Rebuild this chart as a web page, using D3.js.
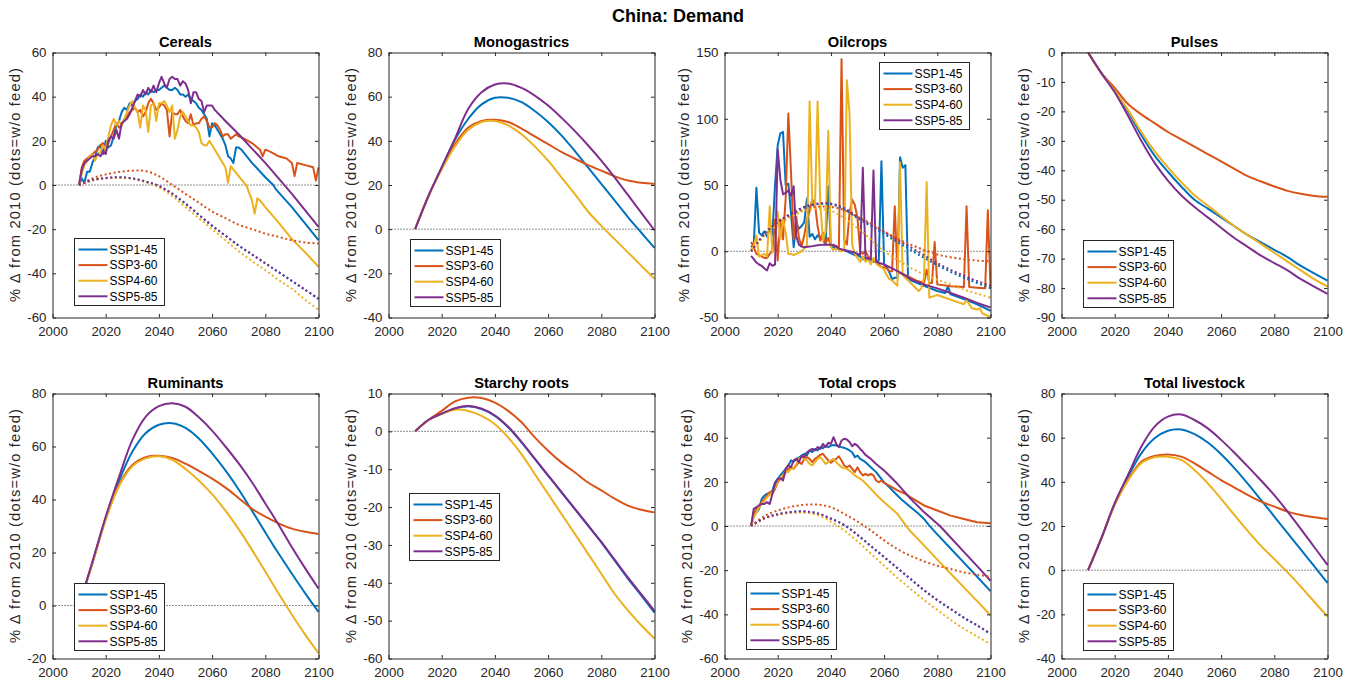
<!DOCTYPE html>
<html><head><meta charset="utf-8">
<script src="https://cdn.jsdelivr.net/npm/d3@7"></script>
<style>
body{margin:0;background:#fff}
svg{display:block}
text{font-family:"Liberation Sans",Arial,Helvetica,sans-serif}
</style>
</head><body>
<svg id="c" width="1356" height="683"></svg>
<script>
// ---------------- DATA ----------------
const scenarios = ["SSP1-45","SSP3-60","SSP4-60","SSP5-85"];
const colors = ["#0072BD","#D95319","#EDB120","#7E2F8E"];
const years5 = [2010,2015,2020,2025,2030,2035,2040,2045,2050,2055,2060,2065,2070,2075,2080,2085,2090,2095,2100];
const xTicks = [2000,2020,2040,2060,2080,2100];

// Cereals (annual, irregular years) [year, value]
const cerealsSSP1 = [[2010,0],[2011,3],[2012,1],[2013,6],[2014,6],[2015,10],[2016,13],[2017,17],[2018,18],[2019,14],[2020,20],[2021,17],[2022,18],[2023,22],[2024,27],[2025,29],[2026,33],[2027,35],[2028,34],[2029,37],[2030,36],[2031,38],[2032,39],[2033,41],[2034,40],[2035,42],[2036,41],[2037,43],[2038,42],[2039,43],[2040,43],[2041,44],[2042,45],[2043,44],[2044,43],[2045,43],[2046,44],[2047,43],[2048,41],[2049,41],[2050,40],[2051,41],[2052,39],[2053,38],[2054,37],[2055,35],[2056,34],[2057,32],[2058,30],[2059,22],[2060,28],[2061,27],[2062,25],[2063,23],[2064,21],[2065,18],[2066,13],[2067,12],[2068,10],[2069,17],[2070,17],[2071,16],[2075,10],[2080,3.5],[2083,0],[2084,-2],[2090,-10],[2095,-17.5],[2100,-25]];
const cerealsSSP3 = [[2010,0],[2011,8],[2012,11],[2013,12],[2014,13],[2015,14],[2016,15],[2017,16],[2018,18],[2019,19],[2020,15],[2021,19],[2022,22],[2023,25],[2024,28],[2025,26],[2026,27],[2027,30],[2028,31],[2029,33],[2030,34],[2031,35],[2032,33],[2033,34],[2034,31],[2035,33],[2036,37],[2037,39],[2038,37],[2039,34],[2040,35],[2041,37],[2042,36],[2043,34],[2044,22],[2045,33],[2046,32],[2047,32],[2048,34],[2049,31],[2050,29],[2051,28],[2052,32],[2053,27],[2054,28],[2055,28],[2056,30],[2057,31],[2058,29],[2059,26],[2060,26],[2061,28],[2062,27],[2063,25],[2064,22],[2065,23],[2066,23],[2067,21],[2068,22],[2069,23],[2070,22],[2072,21],[2075,19],[2077,17],[2078,16],[2079,13],[2080,16],[2082,15],[2085,13],[2088,12],[2090,10],[2091,4],[2092,10],[2095,9],[2098,8],[2099,2],[2100,8]];
const cerealsSSP4 = [[2010,0],[2011,5],[2012,9],[2013,11],[2014,13],[2015,14],[2016,11],[2017,14],[2018,15],[2019,18],[2020,16],[2021,22],[2022,27],[2023,30],[2024,27],[2025,29],[2026,27],[2027,30],[2028,33],[2029,36],[2030,38],[2031,35],[2032,33],[2033,26],[2034,36],[2035,34],[2036,24],[2037,36],[2038,37],[2039,29],[2040,37],[2041,37],[2042,38],[2043,36],[2044,33],[2045,36],[2046,21],[2047,25],[2048,31],[2049,33],[2050,31],[2051,29],[2052,27],[2053,27],[2054,26],[2055,24],[2056,19],[2057,18],[2058,18],[2059,20],[2060,18],[2062,14],[2064,10],[2065,8],[2066,1],[2067,8.5],[2068,7],[2070,4],[2073,-0.5],[2075,-7],[2076,-13],[2077,-6],[2078,-7],[2080,-10],[2085,-17],[2090,-24.5],[2095,-30.5],[2100,-37]];
const cerealsSSP5 = [[2010,0],[2011,7],[2012,10],[2013,11],[2014,12],[2015,13],[2016,13],[2017,14],[2018,13],[2019,15],[2020,14],[2021,20],[2022,22],[2023,21],[2024,25],[2025,21],[2026,28],[2027,29],[2028,30],[2029,32],[2030,35],[2031,38],[2032,41],[2033,40],[2034,43],[2035,41],[2036,44],[2037,42],[2038,45],[2039,42],[2040,46],[2041,49],[2042,46],[2043,44],[2044,48],[2045,49],[2046,48],[2047,48],[2048,45],[2049,47],[2050,46],[2051,43],[2052,37],[2053,42],[2054,42],[2055,39],[2056,38],[2057,33],[2058,36],[2059,36],[2060,36],[2061,34],[2065,29],[2070,23],[2075,16.5],[2080,10],[2085,3],[2090,-4],[2095,-11.5],[2100,-19]];
// Cereals w/o feed (5-yearly, dotted)
const cerealsNoFeedSSP1 = [0,2.2,3.1,3.4,3,1.5,-0.5,-4,-8.5,-13.5,-18.5,-23,-27.5,-31.5,-35.5,-39.5,-43.5,-47.5,-51.5];
const cerealsNoFeedSSP3 = [0,3,4.8,5.9,6.5,6.3,4,0,-4,-8,-12,-15,-18,-20,-22,-23.5,-25,-26,-26.5];
const cerealsNoFeedSSP4 = [0,2,3,3.2,2.8,1.3,-1,-5,-10,-15,-20,-25,-30,-34.5,-38.5,-43,-47,-52,-56.5];
const cerealsNoFeedSSP5 = [0,2.3,3.2,3.5,3,1.6,-0.4,-3.9,-8.4,-13.4,-18.4,-22.9,-27.4,-31.4,-35.4,-39.4,-43.4,-47.4,-51.6];

// Monogastrics (5-yearly)
const monoSSP1 = [0,15,28,40.5,50,56.5,59.5,59.5,57.5,53.5,48.5,42.5,35.5,28,20.5,13,5.5,-1.5,-8.5];
const monoSSP3 = [0,15,27.5,38.5,46,49,49.5,48.5,45.5,42,38.5,35,32,29,26.5,24,22,21,20.5];
const monoSSP4 = [0,15,27,37.5,45,48.5,49,47,43,37.5,31,23.5,16,8,1.5,-4.5,-10.5,-16.5,-22.5];
const monoSSP5 = [0,15,28,41,54.5,62,65.5,66,64,60.5,56,50.5,44.5,38,31,23.5,15.5,7.5,-0.5];

// Oilcrops (annual, irregular years) [year, value]
const oilSSP1 = [[2010,3],[2011,5],[2012,48],[2013,14],[2014,12],[2015,15],[2016,11],[2017,17],[2018,12],[2019,50],[2020,80],[2021,89],[2022,90],[2023,50],[2024,51],[2025,29],[2026,3],[2027,21],[2028,17],[2029,19],[2030,22],[2031,40],[2032,11],[2033,13],[2034,9],[2035,12],[2036,10],[2037,9],[2038,5],[2039,49],[2040,4],[2041,3],[2042,2],[2043,2],[2044,1],[2045,1],[2046,0],[2047,-1],[2048,-2],[2049,-3],[2050,-3],[2051,-4],[2052,-6],[2053,-6],[2054,-5],[2055,-7],[2056,-6],[2057,-8],[2058,-7],[2059,68],[2060,-10],[2061,-12],[2062,-16],[2063,-21],[2064,-20],[2065,-20],[2066,71],[2067,63],[2068,65],[2069,-20],[2070,-22],[2075,-26],[2080,-30],[2083,-31.5],[2084,-26.5],[2085,-32.5],[2090,-36],[2095,-40],[2100,-45]];
const oilSSP3 = [[2010,7],[2011,3],[2012,-2],[2013,-3],[2014,-4],[2015,-5],[2016,-5],[2017,-2],[2018,0],[2019,24],[2020,-7],[2021,24],[2022,9],[2023,40],[2024,104],[2025,60],[2026,9],[2027,26],[2028,10],[2029,4],[2030,12],[2031,24],[2032,30],[2033,39],[2034,36],[2035,19],[2036,8],[2037,14],[2038,6],[2039,10],[2040,4],[2041,5],[2042,3],[2043,2],[2044,145],[2045,9],[2046,5],[2047,29],[2048,39],[2049,35],[2050,25],[2051,0],[2052,-2],[2053,0],[2054,-4],[2055,-6],[2056,-8],[2057,-8],[2058,-10],[2059,-12],[2060,-12],[2061,-13],[2062,-15],[2063,-15],[2064,34],[2065,-16],[2067,-17],[2070,-20],[2072,-22],[2075,-24],[2076,-14],[2077,-24],[2078,-24],[2079,7],[2080,-25],[2085,-26.5],[2090,-27],[2091,34],[2092,-27],[2095,-27.5],[2098,-28],[2099,31],[2100,-28]];
const oilSSP4 = [[2010,1],[2011,4],[2012,12],[2013,-4],[2014,-3],[2015,-2],[2016,-4],[2017,34],[2018,-1],[2019,3],[2020,30],[2021,9],[2022,24],[2023,14],[2024,-2],[2025,-2],[2026,-3],[2027,-2],[2028,-1],[2029,0],[2030,2],[2031,5],[2032,113],[2033,36],[2034,33],[2035,113],[2036,36],[2037,8],[2038,15],[2039,91],[2040,3],[2041,1],[2042,2],[2043,1],[2044,0],[2045,1],[2046,129],[2047,104],[2048,5],[2049,-2],[2050,-5],[2051,-8],[2052,-4],[2053,-8],[2054,-6],[2055,-10],[2056,-5],[2057,-9],[2058,-11],[2059,-12],[2060,-14],[2061,-18],[2062,-21],[2063,-22],[2064,-24],[2065,-26],[2066,67],[2067,-18],[2068,-20],[2069,-22],[2071,-26],[2073,-30],[2074,-28],[2075,-20],[2076,52],[2077,-35],[2080,-33],[2085,-36.5],[2090,-40],[2091,-37],[2093,-43],[2095,-44],[2096,-43],[2097,-47],[2100,-49.5]];
const oilSSP5 = [[2010,-3.5],[2011,-6],[2012,-8.5],[2013,-10],[2014,-11],[2015,-13],[2016,-14.5],[2017,-9],[2018,-11],[2019,-10],[2020,77],[2021,54],[2022,43],[2023,44],[2024,46],[2025,42],[2026,49],[2027,11],[2028,5],[2029,3.5],[2030,3],[2032,3.5],[2035,4.5],[2037,5],[2040,5],[2042,4],[2043,2],[2045,1],[2047,0],[2049,-1],[2051,-3],[2052,63],[2053,-5],[2055,-6],[2056,61],[2057,-8],[2060,-10],[2063,-13],[2066,-16],[2070,-21],[2075,-25],[2080,-28],[2085,-31.5],[2090,-35],[2095,-39],[2100,-42.5]];
const oilNoFeedSSP1 = [0,13,22,28,33,35.5,35.5,31.5,25,19,13,7,1,-5,-10.5,-15.5,-20,-24,-28];
const oilNoFeedSSP3 = [0,12,21,27,31.5,33.5,33.5,31,26,21,15,9.5,5,1,-2.5,-4.5,-6,-7,-7.6];
const oilNoFeedSSP4 = [0,12,20,26,30.5,32,30.5,25,17.5,9,0,-6.5,-12.5,-17.5,-21.5,-25,-29,-32,-35];
const oilNoFeedSSP5 = [0,13,22,28.5,33.5,36,36,32.5,26,20,14.5,8.5,3,-3,-9,-14,-18.5,-22.5,-26];

// Pulses (5-yearly)
const pulsesSSP1 = [0,-7,-13,-20,-28,-35,-40.5,-45.5,-50,-53,-56,-59,-62,-64.5,-67,-69.5,-72.5,-75,-77.5];
const pulsesSSP3 = [0,-7,-12,-17.5,-21,-24,-27,-29.5,-32,-34.5,-37,-39.5,-42,-43.8,-45.5,-47,-48,-48.7,-49];
const pulsesSSP4 = [0,-7,-13,-19.5,-27,-33.5,-39,-44,-48.5,-52,-55.5,-59,-62,-65,-68,-71,-74,-77,-79.5];
const pulsesSSP5 = [0,-7,-13.5,-21.5,-30,-37.5,-43.5,-48.5,-52.5,-56,-59.5,-63,-66,-69,-71.5,-74,-77,-79.5,-82];

// Ruminants (5-yearly)
const rumSSP1 = [0,16,33,47,58,65,68.2,68.8,67,63,57.4,51,43.8,35.8,27.6,19.6,12,4.6,-2.4];
const rumSSP3 = [0,16,32.5,45.5,53,56,56.5,55.7,53.5,50.8,47.9,44.5,40.5,36.5,33.5,31,29,27.8,27];
const rumSSP4 = [0,16,32.5,45,52.5,55.5,56.3,55,51.5,47.2,42,35.8,28.8,21,12.8,4.5,-3.5,-11,-18];
const rumSSP5 = [0,16.5,33.5,48.5,62.4,71.2,75.2,76.3,75,71,66,60,53.6,46.5,38.5,30.5,22,14,6.4];

// Starchy roots (5-yearly)
const starchSSP1 = [0,3,4.6,6,6.6,5.9,4.1,1.1,-2.9,-7.3,-11.7,-16.1,-20.5,-24.9,-29.3,-34.1,-38.9,-43.3,-47.9];
const starchSSP3 = [0,3,5.4,7.9,8.9,8.8,7.6,5.4,2.4,-1.6,-5.1,-8.2,-10.8,-13.5,-15.6,-17.8,-19.6,-20.7,-21.4];
const starchSSP4 = [0,2.9,4.6,5.7,5.4,4.1,1.9,-1.6,-6,-11.3,-16.5,-21.8,-27,-32.3,-37.6,-42.9,-47.3,-51.2,-54.7];
const starchSSP5 = [0,3,4.7,6.1,6.7,6,4.2,1.2,-2.8,-7.2,-11.6,-16,-20.4,-24.8,-29.2,-33.9,-38.6,-43,-47.4];

// Total crops (annual, irregular years) [year, value]
const totCropsSSP1 = [[2010,0],[2011,4.6],[2012,6.2],[2013,7.8],[2014,12.3],[2015,13.8],[2016,14.6],[2017,15],[2018,16],[2019,19.8],[2020,21.3],[2021,22.9],[2022,24.4],[2023,25.9],[2024,27.4],[2025,29.7],[2026,29],[2027,30.4],[2028,31],[2029,31.9],[2030,32.7],[2031,32],[2032,34.2],[2033,33.5],[2034,34.9],[2035,34.2],[2036,35.7],[2037,35.2],[2038,36.4],[2039,35.7],[2040,36.4],[2041,36.7],[2042,36.4],[2043,36.1],[2044,35.7],[2045,35.4],[2046,34.9],[2047,34.2],[2048,33.4],[2049,31.2],[2050,31.9],[2051,30.4],[2052,29.7],[2053,28.9],[2055,26.6],[2057,24.4],[2060,19.8],[2062,17.5],[2065,13.8],[2067,11.5],[2070,8.5],[2073,5.5],[2075,3.2],[2077,0.2],[2080,-3.8],[2085,-10.2],[2090,-16.6],[2095,-23],[2100,-29.5]];
const totCropsSSP3 = [[2010,0],[2011,5.5],[2012,7.8],[2013,9.3],[2014,10.8],[2015,12.3],[2016,13.8],[2017,15.3],[2018,14.6],[2019,16.8],[2020,19.8],[2021,21.3],[2022,21.6],[2023,24.4],[2024,25.9],[2025,26.6],[2026,25.9],[2027,27.4],[2028,28.9],[2029,28.1],[2030,30.4],[2031,31.2],[2032,30.4],[2033,28.9],[2034,30.4],[2035,31.2],[2036,32.2],[2037,32.7],[2038,31.2],[2039,29.7],[2040,28.6],[2041,29.7],[2042,30.4],[2043,31.6],[2044,29.7],[2045,27.4],[2046,26.6],[2047,27.4],[2048,25.9],[2049,24.4],[2050,26.6],[2051,24.4],[2052,22.9],[2053,23.6],[2054,22.9],[2055,23.6],[2056,22.9],[2057,20.6],[2058,19.8],[2059,20.6],[2060,19.5],[2062,18.3],[2065,16.1],[2068,14.6],[2070,13],[2075,9.3],[2080,7],[2085,4.7],[2090,3.2],[2095,1.7],[2100,1.2]];
const totCropsSSP4 = [[2010,0],[2011,4],[2012,6.2],[2013,8.5],[2014,10],[2015,11.5],[2016,13],[2017,14.1],[2018,15.3],[2019,17.6],[2020,20.6],[2021,22],[2022,22.9],[2023,25.1],[2024,24.4],[2025,25.9],[2026,26.2],[2027,28.1],[2028,30.4],[2029,31.2],[2030,30.4],[2031,29.7],[2032,28.1],[2033,27.4],[2034,28.9],[2035,30.4],[2036,31.2],[2037,29.7],[2038,28.1],[2039,28.9],[2040,29.7],[2041,30.4],[2042,28.9],[2043,27.7],[2044,26.6],[2045,26.2],[2046,25.9],[2047,25.1],[2048,24],[2049,22.9],[2050,22.1],[2052,20.6],[2055,16.8],[2058,13],[2060,10.8],[2065,5.5],[2068,0.5],[2070,-2.5],[2075,-8.8],[2080,-15.2],[2085,-21.5],[2090,-27.8],[2095,-34],[2100,-40.4]];
const totCropsSSP5 = [[2010,0],[2011,7.8],[2012,8.5],[2013,9.3],[2014,10],[2015,10],[2016,10.8],[2017,10],[2018,14.6],[2019,19.1],[2020,21.3],[2021,21.6],[2022,20.6],[2023,25.9],[2024,27.4],[2025,26.6],[2026,29.7],[2027,30.4],[2028,28.9],[2029,31.9],[2030,31.2],[2031,33.4],[2032,34.2],[2033,34.9],[2034,34.2],[2035,35.7],[2036,34.9],[2037,37.2],[2038,35.7],[2039,37.7],[2040,37.2],[2041,40.2],[2042,37.2],[2043,35.7],[2044,38.7],[2045,39.5],[2046,39.2],[2047,38],[2048,36.1],[2049,37.2],[2050,36.4],[2051,34.9],[2052,33.7],[2053,32.2],[2055,30.4],[2057,28.1],[2060,25.1],[2065,19.1],[2070,12.3],[2075,6.3],[2080,1],[2081,0],[2085,-5.2],[2090,-11.7],[2095,-18.2],[2100,-24.8]];
const totCropsNoFeedSSP1 = [0,3.5,5.3,6.3,6.6,5.7,3.4,0.4,-4.1,-9.1,-14.1,-19.1,-24.1,-29.1,-33.6,-37.6,-41.6,-45.1,-48.9];
const totCropsNoFeedSSP3 = [0,4.5,7,8.7,9.6,9.7,8.5,5.5,2,-2,-6.5,-10.5,-13.5,-16,-18,-19.5,-21,-22,-23];
const totCropsNoFeedSSP4 = [0,3.2,5,5.9,6,5,2,-2,-7,-12.5,-18,-23.5,-28.5,-33.5,-38,-42.5,-46.5,-50,-53.5];
const totCropsNoFeedSSP5 = [0,3.5,5.3,6.3,6.6,5.7,3.3,0.5,-4,-9,-14,-19,-24,-29,-33.5,-37.5,-41.5,-45,-48.7];

// Total livestock (5-yearly)
const livSSP1 = [0,14.5,30,42.3,52.9,59.7,63.1,63.7,61.6,57.8,52.5,46.2,39.2,31.8,24.3,16.8,9.3,1.8,-5.8];
const livSSP3 = [0,14.5,29.8,40.8,49.1,51.7,52.4,51.4,48.4,44.6,40.8,37.4,34.1,31,28.8,26.5,25,24,23.2];
const livSSP4 = [0,14.5,29.5,40.5,48.4,51.1,51.4,49.9,45.4,39.3,32.3,25,17.8,11,5,-1,-7.5,-14.3,-21];
const livSSP5 = [0,14.5,30.3,43.1,55.9,65,69.5,70.5,68,64.2,59,53.2,47,40.6,34,26.5,18.6,10.5,2.4];

// ---------------- PANELS ----------------
const withYears = arr => arr.map((v,i)=>[years5[i], v]);
const panels = [
  {title:"Cereals", yDomain:[-60,60], yTicks:[-60,-40,-20,0,20,40,60], smooth:false,
   solid:[cerealsSSP1,cerealsSSP3,cerealsSSP4,cerealsSSP5],
   dotted:[cerealsNoFeedSSP1,cerealsNoFeedSSP3,cerealsNoFeedSSP4,cerealsNoFeedSSP5].map(withYears),
   legend:{left:22, top:186}},
  {title:"Monogastrics", yDomain:[-40,80], yTicks:[-40,-20,0,20,40,60,80], smooth:true,
   solid:[monoSSP1,monoSSP3,monoSSP4,monoSSP5].map(withYears), dotted:null,
   legend:{left:22, top:187}},
  {title:"Oilcrops", yDomain:[-50,150], yTicks:[-50,0,50,100,150], smooth:false,
   solid:[oilSSP1,oilSSP3,oilSSP4,oilSSP5],
   dotted:[oilNoFeedSSP1,oilNoFeedSSP3,oilNoFeedSSP4,oilNoFeedSSP5].map(withYears),
   legend:{left:155, top:10}},
  {title:"Pulses", yDomain:[-90,0], yTicks:[-90,-80,-70,-60,-50,-40,-30,-20,-10,0], smooth:true,
   solid:[pulsesSSP1,pulsesSSP3,pulsesSSP4,pulsesSSP5].map(withYears), dotted:null,
   legend:{left:22, top:188}},
  {title:"Ruminants", yDomain:[-20,80], yTicks:[-20,0,20,40,60,80], smooth:true,
   solid:[rumSSP1,rumSSP3,rumSSP4,rumSSP5].map(withYears), dotted:null,
   legend:{left:22, top:190}},
  {title:"Starchy roots", yDomain:[-60,10], yTicks:[-60,-50,-40,-30,-20,-10,0,10], smooth:true,
   solid:[starchSSP1,starchSSP3,starchSSP4,starchSSP5].map(withYears), dotted:null,
   legend:{left:21, top:100}},
  {title:"Total crops", yDomain:[-60,60], yTicks:[-60,-40,-20,0,20,40,60], smooth:false,
   solid:[totCropsSSP1,totCropsSSP3,totCropsSSP4,totCropsSSP5],
   dotted:[totCropsNoFeedSSP1,totCropsNoFeedSSP3,totCropsNoFeedSSP4,totCropsNoFeedSSP5].map(withYears),
   legend:{left:22, top:189}},
  {title:"Total livestock", yDomain:[-40,80], yTicks:[-40,-20,0,20,40,60,80], smooth:true,
   solid:[livSSP1,livSSP3,livSSP4,livSSP5].map(withYears), dotted:null,
   legend:{left:22, top:190}}
];

// ---------------- LAYOUT ----------------
const svg = d3.select("#c");
const lefts = [52,388,724,1061], tops = [52,393];
const W = 266, H = 265;
const axisColor = "#262626";

svg.append("text").attr("x",678).attr("y",22).attr("text-anchor","middle")
  .attr("font-size","18px").attr("font-weight","bold").attr("fill","#000")
  .text("China: Demand");

panels.forEach((p, i) => {
  const col = i % 4, row = Math.floor(i / 4);
  const g = svg.append("g").attr("transform", `translate(${lefts[col]+0.5},${tops[row]+0.5})`);
  const x = d3.scaleLinear().domain([2000,2100]).range([0,W]);
  const y = d3.scaleLinear().domain(p.yDomain).range([H,0]);

  const clipId = "clip"+i;
  g.append("clipPath").attr("id",clipId).append("rect").attr("x",-1).attr("y",-1).attr("width",W+2).attr("height",H+2);
  const plot = g.append("g").attr("clip-path",`url(#${clipId})`);

  // zero reference line
  plot.append("line").attr("x1",0).attr("x2",W).attr("y1",y(0)).attr("y2",y(0))
    .attr("stroke","#222").attr("stroke-width",1).attr("stroke-dasharray","1,2");

  const smoothCurve = d3.curveCatmullRom.alpha(0.5);
  const line = d3.line().x(d=>x(d[0])).y(d=>y(d[1]))
    .curve(p.smooth ? smoothCurve : d3.curveLinear);
  const lineDot = d3.line().x(d=>x(d[0])).y(d=>y(d[1])).curve(smoothCurve);

  p.solid.forEach((s, k) => {
    plot.append("path").datum(s).attr("d", line).attr("fill","none")
      .attr("stroke", colors[k]).attr("stroke-width", 2).attr("stroke-linejoin","round");
  });
  if (p.dotted) {
    p.dotted.forEach((s, k) => {
      plot.append("path").datum(s).attr("d", lineDot).attr("fill","none")
        .attr("stroke", colors[k]).attr("stroke-width", 2).attr("stroke-dasharray","2,2.6");
    });
  }

  // axes (MATLAB box style: ticks inside on all four sides)
  const tickLen = 3.5;
  const styleAxis = sel => {
    sel.selectAll("path.domain").attr("stroke", axisColor).attr("stroke-width",1);
    sel.selectAll(".tick line").attr("stroke", axisColor).attr("stroke-width",1);
    sel.selectAll(".tick text").attr("fill", axisColor).attr("font-size","13.3px")
      .attr("font-family",'"Liberation Sans",Arial,Helvetica,sans-serif');
  };
  g.append("g").attr("transform",`translate(0,${H})`)
    .call(d3.axisBottom(x).tickValues(xTicks).tickFormat(d3.format("d")).tickSizeInner(-tickLen).tickSizeOuter(0).tickPadding(9))
    .call(styleAxis);
  g.append("g")
    .call(d3.axisTop(x).tickValues(xTicks).tickFormat("").tickSizeInner(-tickLen).tickSizeOuter(0))
    .call(styleAxis);
  const yAxis = g.append("g")
    .call(d3.axisLeft(y).tickValues(p.yTicks).tickFormat(d=>d3.format("d")(d).replace("\u2212","-")).tickSizeInner(-tickLen).tickSizeOuter(0).tickPadding(6))
    .call(styleAxis);
  g.append("g").attr("transform",`translate(${W},0)`)
    .call(d3.axisRight(y).tickValues(p.yTicks).tickFormat("").tickSizeInner(-tickLen).tickSizeOuter(0))
    .call(styleAxis);

  // y label positioned left of widest tick label
  let maxW = 0;
  yAxis.selectAll(".tick text").each(function(){ maxW = Math.max(maxW, this.getComputedTextLength()); });
  const lx = -6 - maxW - 12;
  g.append("text").attr("transform",`translate(${lx},${H/2}) rotate(-90)`)
    .attr("text-anchor","middle").attr("dy","0.35em")
    .attr("font-size","14.7px").attr("fill",axisColor)
    .attr("textLength",234).attr("lengthAdjust","spacing")
    .text("%  \u0394 from 2010 (dots=w/o feed)");

  // title
  g.append("text").attr("x",W/2).attr("y",-6).attr("text-anchor","middle")
    .attr("font-size","14.7px").attr("font-weight","bold").attr("fill","#000").text(p.title);

  // legend
  const lg = g.append("g").attr("transform",`translate(${p.legend.left},${p.legend.top})`);
  lg.append("rect").attr("width",90).attr("height",67).attr("fill","#fff")
    .attr("stroke",axisColor).attr("stroke-width",1);
  scenarios.forEach((name,k) => {
    const cy = 11 + k*15.6;
    lg.append("line").attr("x1",4).attr("x2",33).attr("y1",cy).attr("y2",cy)
      .attr("stroke",colors[k]).attr("stroke-width",2);
    lg.append("text").attr("x",35).attr("y",cy).attr("dy","0.36em")
      .attr("font-size","12px").attr("fill","#000").text(name);
  });
});
</script>
</body></html>
